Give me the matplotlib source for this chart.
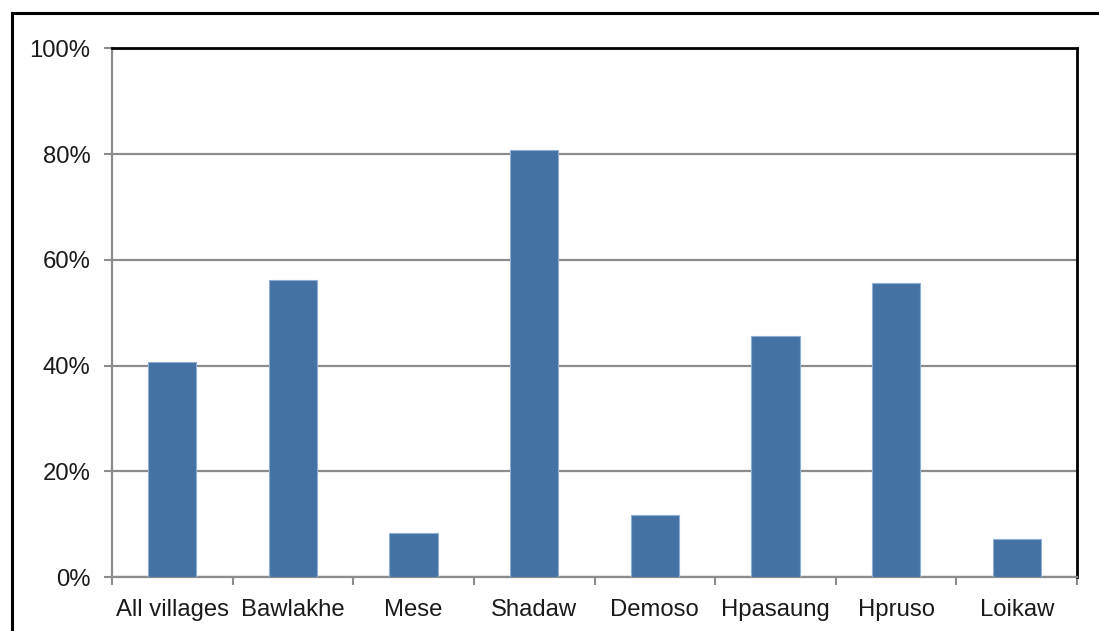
import matplotlib
matplotlib.use("Agg")
import matplotlib.pyplot as plt
from matplotlib.lines import Line2D
import numpy as np

categories = ["All villages", "Bawlakhe", "Mese", "Shadaw", "Demoso", "Hpasaung", "Hpruso", "Loikaw"]
values = [40.6, 56.1, 8.4, 80.8, 11.8, 45.6, 55.7, 7.2]
yticks = [0, 20, 40, 60, 80, 100]
ytick_labels = ["0%", "20%", "40%", "60%", "80%", "100%"]

plt.rcParams['font.family'] = ['Liberation Sans', 'DejaVu Sans']

W, H = 1099, 631
fig = plt.figure(figsize=(W / 100, H / 100), dpi=100)
ax = fig.add_axes([112 / W, 1 - 577.3 / H, (1077 - 112) / W, (577.3 - 48.2) / H])

x = np.arange(len(categories))
ax.bar(x, values, width=0.40, color="#4472A3", edgecolor="#8FAED3", linewidth=0.8, zorder=3)

ax.set_xlim(-0.5, len(categories) - 0.5)
ax.set_ylim(0, 100)
ax.set_yticks(yticks)
ax.set_yticklabels(ytick_labels)
ax.set_xticks(x)
ax.set_xticklabels(categories)
ax.set_xticks(np.arange(len(categories) + 1) - 0.5, minor=True)

grey = "#8C8C8C"
ax.yaxis.grid(True, color=grey, linewidth=1.6, zorder=0)
ax.set_axisbelow(True)

ax.tick_params(axis="x", which="major", length=0, pad=15.5, labelsize=17.2, colors="#1a1a1a")
ax.tick_params(axis="x", which="minor", length=5.5, width=1.5, color=grey, direction="out")
ax.tick_params(axis="y", which="major", length=5.5, width=1.5, color=grey, pad=10,
               labelsize=17.2, labelcolor="#1a1a1a", direction="out")

ax.spines["left"].set_color(grey)
ax.spines["left"].set_linewidth(1.6)
ax.spines["bottom"].set_color(grey)
ax.spines["bottom"].set_linewidth(1.6)
ax.spines["top"].set_color("black")
ax.spines["top"].set_linewidth(2.0)
ax.spines["right"].set_color("black")
ax.spines["right"].set_linewidth(2.0)

# outer frame (clipped by image at right and bottom)
x0 = 11.5 / W
y0 = 1 - 13.2 / H
fig.add_artist(Line2D([x0, x0], [-0.05, y0], transform=fig.transFigure, color="black", linewidth=2.2))
fig.add_artist(Line2D([x0, 1.05], [y0, y0], transform=fig.transFigure, color="black", linewidth=2.2))

fig.savefig("out.png", dpi=100)
